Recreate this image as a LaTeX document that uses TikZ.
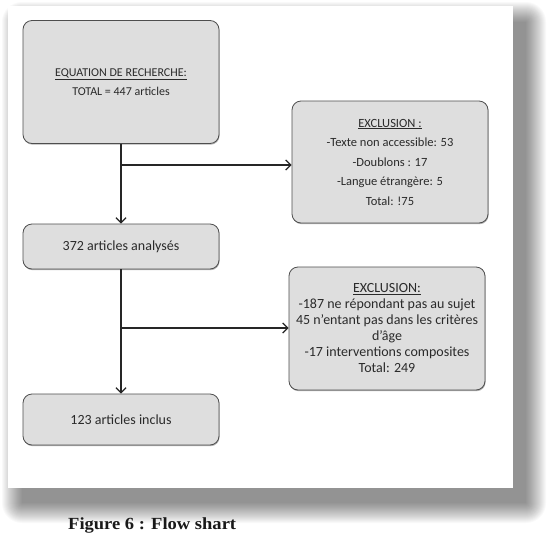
\documentclass[tikz,border=0pt]{standalone}
\usepackage{fontspec}
\setmainfont{Carlito}
\newfontfamily\capfont{Liberation Serif}
\usetikzlibrary{arrows.meta,shadows}
\definecolor{boxfill}{HTML}{DEDEDE}
\definecolor{boxline}{HTML}{4E4E4E}
\definecolor{txt}{HTML}{2A2A2A}
\begin{document}
\begin{tikzpicture}[x=1pt,y=-1pt,
  box/.style={draw=boxline, line width=0.8pt, fill=boxfill, rounded corners=9pt,
    align=center, text=txt, inner sep=0pt, minimum width=196pt,
    drop shadow={shadow xshift=0.6pt, shadow yshift=-1.2pt, opacity=0.3, fill=black}},
  conn/.style={draw=black!85, line width=1.1pt},
  arr/.style={conn, -{Straight Barb[length=5pt,width=10pt,line width=1.3pt]}}
]
\useasboundingbox (0,0) rectangle (549,536);
\fill[white] (0,0) rectangle (549,536);
% page shadow
\foreach \i in {0,...,20}{
  \fill[black, opacity=0.025, rounded corners=\i pt] (22-\i, 22-\i) rectangle (526+\i, 503+\i);
}
% page
\fill[white] (8,6) rectangle (513,488);

\node[box, minimum height=123pt, font=\fontsize{12}{19}\selectfont] (b1) at (121,82)
  {\underline{EQUATION DE RECHERCHE:}\\ TOTAL = 447 articles};
\node[box, minimum height=122pt, font=\fontsize{12.5}{19.5}\selectfont] (b2) at (390,162)
  {\underline{EXCLUSION :}\\ -Texte non accessible: 53\\ -Doublons : 17\\ -Langue étrangère: 5\\ Total: !75};
\node[box, minimum height=45pt, font=\fontsize{14}{16}\selectfont] (b3) at (121,246.5)
  {372 articles analysés};
\node[box, minimum height=123pt, font=\fontsize{14}{16}\selectfont] (b5) at (387,328.5)
  {\underline{EXCLUSION:}\\ -187 ne répondant pas au sujet\\ 45 n'entant pas dans les critères\\ d'âge\\ -17 interventions composites\\ Total: 249};
\node[box, minimum height=51pt, font=\fontsize{14}{16}\selectfont] (b4) at (121,419.5)
  {123 articles inclus};

\coordinate (j1) at (121,165);
\coordinate (j2) at (121,328);
\draw[arr] (b1.south) -- (b3.north);
\draw[arr] (j1) -- (j1 -| b2.west);
\draw[arr] (b3.south) -- (b4.north);
\draw[arr] (j2) -- (j2 -| b5.west);

\node[anchor=base west, inner sep=0pt, text=black!90,
  font=\capfont\bfseries\fontsize{17}{20}\selectfont] (cap) at (68,529)
  {\scalebox{1.09}[1]{Figure 6 : Flow shart}};
\end{tikzpicture}
\end{document}
